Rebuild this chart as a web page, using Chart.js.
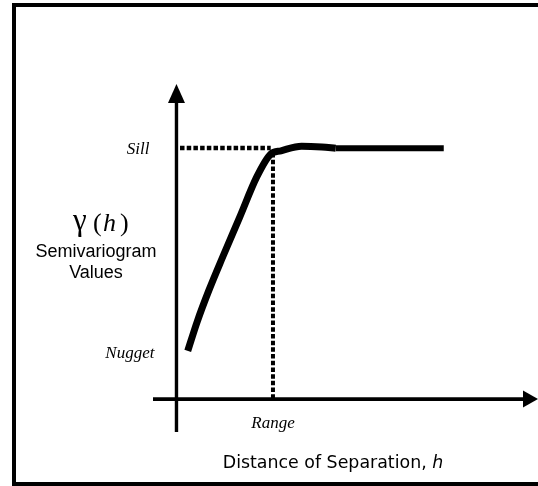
<!DOCTYPE html>
<html>
<head>
<meta charset="utf-8">
<title>Semivariogram</title>
<script src="https://cdn.jsdelivr.net/npm/chart.js@4/dist/chart.umd.min.js"></script>
<style>
  html, body { margin: 0; padding: 0; background: #fff; }
  #wrap { width: 538px; height: 486px; }
</style>
</head>
<body>
<div id="wrap"><canvas id="chart" width="538" height="486"></canvas></div>
<script>
// Semivariogram model: rising part of the curve (lag h, semivariance gamma)
const curveH     = [0.35, 0.64, 1.01, 1.44, 1.97, 2.50, 2.93, 3.25, 3.89, 4.52, 4.95];
const curveGamma = [1.92, 3.07, 4.34, 5.67, 7.26, 8.86, 9.76, 9.89, 10.07, 10.04, 9.99];
// Flat plateau beyond the range
const plateauH     = [4.95, 8.31];
const plateauGamma = [9.99, 9.99];

// Key model parameters
const nugget = 1.92;
const sill = 10;
const range = 3.0;

// Axis extents (in data units)
const hLimits = [-0.73, 11.24];
const gammaLimits = [-1.31, 12.55];

const toPoints = (xs, ys) => xs.map((x, i) => ({ x: x, y: ys[i] }));

const serifItalic = (px) => 'italic ' + px + 'px "Liberation Serif", "Times New Roman", serif';
const serif = (px) => px + 'px "Liberation Serif", "Times New Roman", serif';

// Draws the frame, arrowed axes and annotation text
const diagramPlugin = {
  id: 'diagram',
  beforeDatasetsDraw(chart) {
    const ctx = chart.ctx;
    const xs = chart.scales.x, ys = chart.scales.y;
    const x0 = xs.getPixelForValue(0);
    const y0 = ys.getPixelForValue(0);
    const xLeft = xs.getPixelForValue(hLimits[0]);
    const xRight = xs.getPixelForValue(hLimits[1]);
    const yBottom = ys.getPixelForValue(gammaLimits[0]);
    const yTop = ys.getPixelForValue(gammaLimits[1]);

    ctx.save();
    // outer frame
    ctx.strokeStyle = '#000';
    ctx.lineWidth = 4;
    ctx.strokeRect(14, 5, 600, 479);

    // horizontal axis with arrow
    ctx.lineWidth = 3.7;
    ctx.beginPath();
    ctx.moveTo(xLeft, y0);
    ctx.lineTo(xRight - 12, y0);
    ctx.stroke();
    ctx.fillStyle = '#000';
    ctx.beginPath();
    ctx.moveTo(xRight, y0);
    ctx.lineTo(xRight - 15, y0 - 8.5);
    ctx.lineTo(xRight - 15, y0 + 8.5);
    ctx.closePath();
    ctx.fill();

    // vertical axis with arrow
    ctx.lineWidth = 3.4;
    ctx.beginPath();
    ctx.moveTo(x0, yBottom);
    ctx.lineTo(x0, yTop + 15);
    ctx.stroke();
    ctx.beginPath();
    ctx.moveTo(x0, yTop);
    ctx.lineTo(x0 - 8.5, yTop + 19);
    ctx.lineTo(x0 + 8.5, yTop + 19);
    ctx.closePath();
    ctx.fill();

    // parameter labels
    ctx.fillStyle = '#000';
    ctx.font = serifItalic(17);
    ctx.textBaseline = 'middle';
    ctx.textAlign = 'right';
    ctx.fillText('Sill', x0 - 27, ys.getPixelForValue(sill) + 2);
    ctx.fillText('Nugget', x0 - 22, ys.getPixelForValue(nugget) + 3);
    ctx.textAlign = 'center';
    ctx.fillText('Range', xs.getPixelForValue(range), y0 + 24);

    // y-axis title: gamma(h)
    ctx.textAlign = 'left';
    ctx.textBaseline = 'alphabetic';
    ctx.font = serif(31);
    ctx.fillText('\u03B3', 73, 230);
    ctx.font = serif(26);
    ctx.fillText('(', 93, 231);
    ctx.fillText(')', 120, 231);
    ctx.font = serifItalic(26);
    ctx.fillText('h', 103, 231);

    ctx.textAlign = 'center';
    ctx.textBaseline = 'middle';
    ctx.font = '18px "Liberation Sans", Arial, sans-serif';
    ctx.fillText('Semivariogram', 96, 252);
    ctx.fillText('Values', 96, 273);

    // x-axis title
    const size = 17.4;
    const plain = size + 'px "DejaVu Sans", Verdana, sans-serif';
    const slanted = 'oblique ' + plain;
    const main = 'Distance of Separation, ';
    ctx.textAlign = 'left';
    ctx.font = plain;
    const wMain = ctx.measureText(main).width;
    ctx.font = slanted;
    const wH = ctx.measureText('h').width;
    const startX = 333 - (wMain + wH) / 2;
    ctx.font = plain;
    ctx.fillText(main, startX, 463);
    ctx.font = slanted;
    ctx.fillText('h', startX + wMain, 463);
    ctx.restore();
  }
};

new Chart(document.getElementById('chart'), {
  type: 'scatter',
  data: {
    datasets: [
      {
        label: 'Sill',
        data: toPoints([0.11, range - 0.07], [sill, sill]),
        showLine: true,
        borderColor: '#000',
        borderWidth: 4.5,
        borderDash: [4.5, 2.2],
        pointRadius: 0
      },
      {
        label: 'Range',
        data: toPoints([range, range], [sill - 0.2, 0]),
        showLine: true,
        borderColor: '#000',
        borderWidth: 4,
        borderDash: [4.5, 2.2],
        pointRadius: 0
      },
      {
        label: 'Model',
        data: toPoints(curveH, curveGamma),
        showLine: true,
        borderColor: '#000',
        borderWidth: 7,
        cubicInterpolationMode: 'monotone',
        borderCapStyle: 'butt',
        borderJoinStyle: 'round',
        pointRadius: 0
      },
      {
        label: 'Plateau',
        data: toPoints(plateauH, plateauGamma),
        showLine: true,
        borderColor: '#000',
        borderWidth: 6,
        borderCapStyle: 'butt',
        pointRadius: 0
      }
    ]
  },
  options: {
    responsive: false,
    animation: false,
    layout: { padding: { left: 153, right: 0, top: 84, bottom: 54 } },
    plugins: {
      legend: { display: false },
      tooltip: { enabled: false },
      title: { display: false }
    },
    scales: {
      x: { type: 'linear', display: false, min: hLimits[0], max: hLimits[1] },
      y: { type: 'linear', display: false, min: gammaLimits[0], max: gammaLimits[1] }
    }
  },
  plugins: [diagramPlugin]
});
</script>
</body>
</html>
